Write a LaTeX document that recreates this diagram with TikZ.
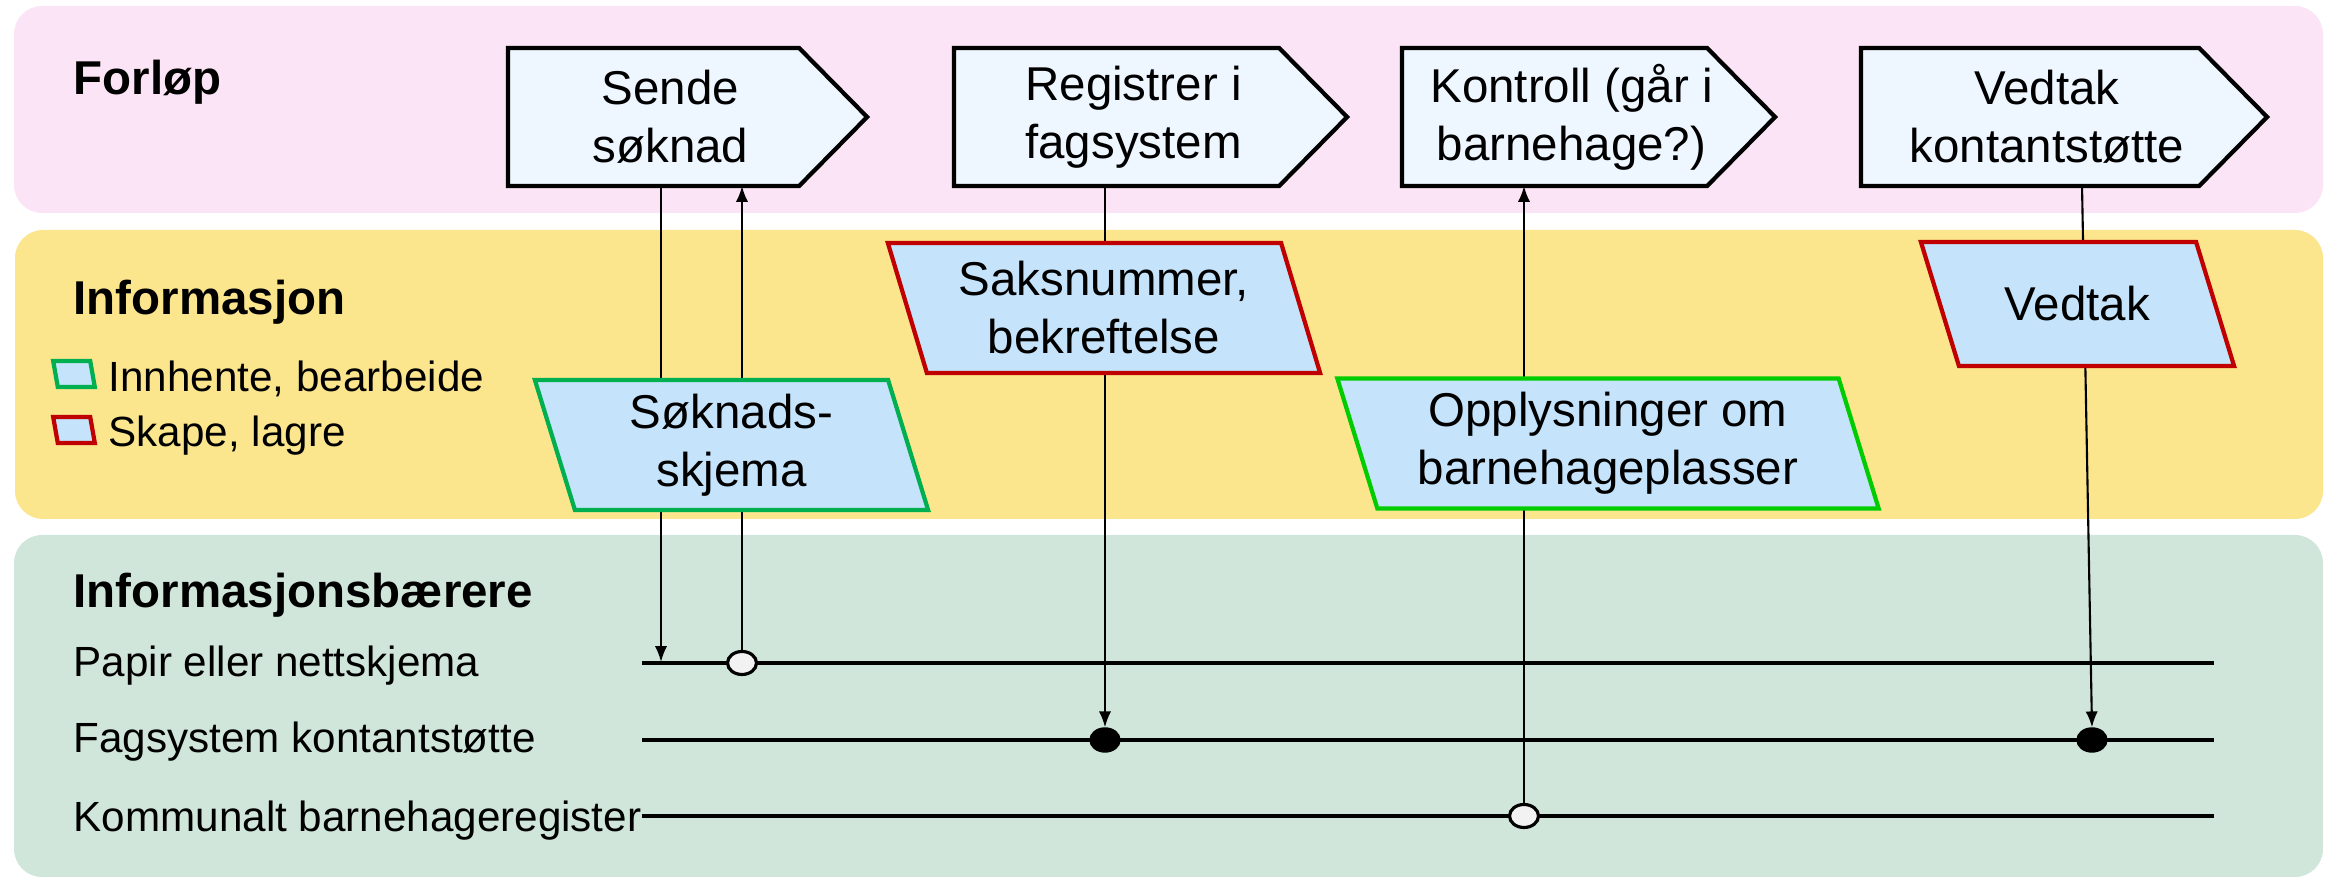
\documentclass[tikz,border=0pt]{standalone}
\usepackage{fontspec}
\setmainfont{Liberation Sans}
\usetikzlibrary{shapes.geometric,arrows.meta,backgrounds}
\definecolor{forlop}{RGB}{251,228,245}
\definecolor{infoband}{RGB}{251,229,141}
\definecolor{bareband}{RGB}{208,230,218}
\definecolor{stepfill}{RGB}{238,246,255}
\definecolor{infofill}{RGB}{197,228,251}
\definecolor{greenb}{RGB}{0,176,80}
\definecolor{limeb}{RGB}{0,204,0}
\definecolor{redb}{RGB}{192,0,0}
\begin{document}
\begin{tikzpicture}[
        x=0.01cm, y=-0.01cm,
        band/.style={rounded corners=0.28cm},
        stepn/.style={minimum height=1.38cm, inner sep=0pt, outer sep=0pt, align=center, font=\fontsize{13.5}{16.5}\selectfont},
        infon/.style={minimum height=1.30cm, inner sep=0pt, outer sep=0pt, align=center, font=\fontsize{13.5}{16.5}\selectfont},
        legn/.style={minimum width=0.37cm, minimum height=0.26cm, inner sep=0pt, outer sep=0pt},
        headn/.style={anchor=base west, inner sep=0pt, font=\fontsize{13.5}{16}\selectfont\bfseries},
        lbl/.style={anchor=base west, inner sep=0pt, font=\fontsize{12}{14}\selectfont},
        whiten/.style={ellipse, draw, fill=black!5, minimum width=0.29cm, minimum height=0.23cm, inner sep=0pt, line width=0.9pt},
        blackn/.style={ellipse, draw, fill=black, minimum width=0.30cm, minimum height=0.24cm, inner sep=0pt},
        carrier/.style={line width=1.1pt},
        conn/.style={draw, line width=0.6pt, -{Latex[length=4.5pt,width=3.5pt]}},
    ]
    \useasboundingbox (0,0) rectangle (2329,880);

    \node[headn](forlop) at (73,95) {Forløp};
    \node[headn](informasjon) at (73,315) {Informasjon};
    \node[headn](barere) at (73,608) {Informasjonsbærere};

    \node[legn](legA) at (74,374) {};
    \node[legn](legB) at (74,430) {};
    \node[lbl](innhente) at (108,392) {Innhente, bearbeide};
    \node[lbl](skape) at (108,447) {Skape, lagre};

    \node[stepn, minimum width=3.25cm](sende) at (670.5,117) {Sende\\søknad};
    \node[stepn, minimum width=3.59cm](registrer) at (1133.5,117) {Registrer i\\fagsystem};
    \node[stepn, minimum width=3.39cm](kontroll) at (1571.5,117) {Kontroll (går i\\barnehage?)};
    \node[stepn, minimum width=3.72cm](vedtak) at (2047,117) {Vedtak\\kontantstøtte};

    \node[infon, minimum width=3.53cm](soknad) at (731.5,445) {Søknads-\\skjema};
    \node[infon, minimum width=3.93cm](saksnr) at (1104,308) {Saksnummer,\\bekreftelse};
    \node[infon, minimum width=5.01cm](opplys) at (1608,443.5) {Opplysninger om\\barnehageplasser};
    \node[infon, minimum width=2.75cm, minimum height=1.24cm](vedtakinfo) at (2077.5,304) {Vedtak};

    \node[lbl](papir) at (73,677) {Papir eller nettskjema};
    \node[lbl](fagsys) at (73,753) {Fagsystem kontantstøtte};
    \node[lbl](kommunalt) at (73,832) {Kommunalt barnehageregister};

    \coordinate (papirA) at (642,663);
    \coordinate (papirB) at (2214,663);
    \coordinate (fagA) at (642,740);
    \coordinate (fagB) at (2214,740);
    \coordinate (komA) at (642,816);
    \coordinate (komB) at (2214,816);
    \coordinate (psoknad) at (661,662);
    \draw[carrier] (papirA) -- (papirB);
    \draw[carrier] (fagA) -- (fagB);
    \draw[carrier] (komA) -- (komB);

    \node[whiten](psende) at (742,663) {};
    \node[blackn](freg) at (1105,740) {};
    \node[whiten](kkontroll) at (1524,816) {};
    \node[blackn](fvedtak) at (2092,740) {};

    \begin{scope}[on background layer]
        \fill[forlop, band] (14,6) rectangle (2323,213);
        \fill[infoband, band] (15,230) rectangle (2323,519);
        \fill[bareband, band] (14,535) rectangle (2323,877);
        \draw[conn] (sende.south -| psoknad) -- (psoknad);
        \draw[conn] (psende.north) -- (psende.north |- sende.south);
        \draw[conn] (freg.north |- registrer.south) -- (freg.north);
        \draw[conn] (kkontroll.north) -- (kkontroll.north |- kontroll.south);
        \draw[conn] ([xshift=0.35cm]vedtak.south) -- (fvedtak.north);
        \foreach \n in {sende,registrer,kontroll,vedtak}
            \draw[line width=1.2pt, fill=stepfill] (\n.north west) -- ([xshift=-0.34cm]\n.north east)
                -- ([xshift=0.34cm]\n.east) -- ([xshift=-0.34cm]\n.south east) -- (\n.south west) -- cycle;
        \foreach \n/\s/\c in {soknad/0.2cm/greenb, saksnr/0.195cm/redb, opplys/0.2cm/limeb,
                vedtakinfo/0.19cm/redb, legA/0.023cm/greenb, legB/0.023cm/redb}
            \draw[line width=1.2pt, draw=\c, fill=infofill] ([xshift=-\s]\n.north west) -- ([xshift=-\s]\n.north east)
                -- ([xshift=\s]\n.south east) -- ([xshift=\s]\n.south west) -- cycle;
    \end{scope}
\end{tikzpicture}
\end{document}
